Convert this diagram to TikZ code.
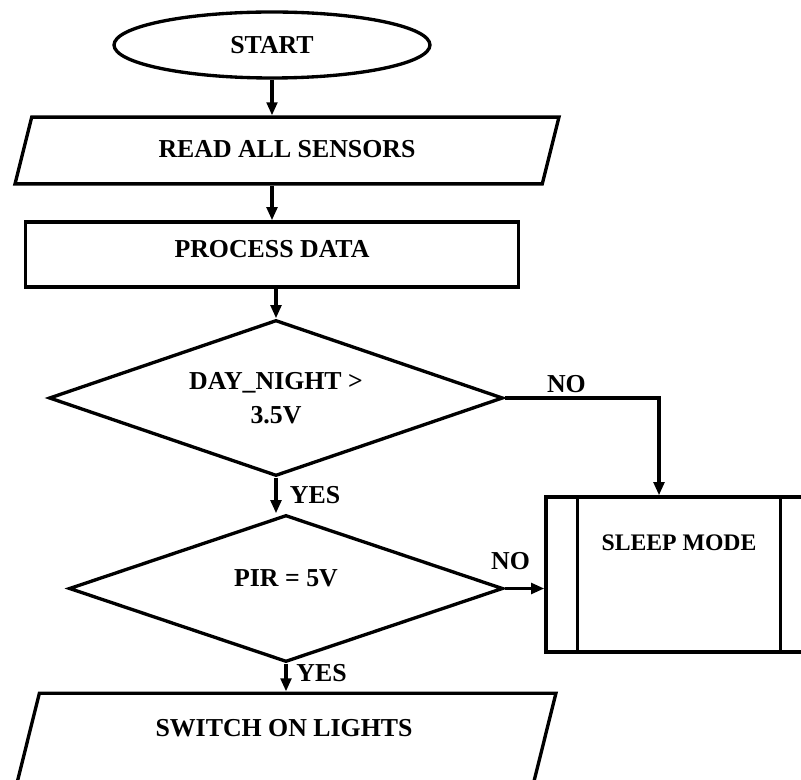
\documentclass[tikz,border=0pt]{standalone}
\usepackage{fontspec}
\setmainfont{Liberation Serif}
\usetikzlibrary{
  arrows.meta,
  positioning,
  shapes.geometric,
  calc
}

\begin{document}
\begin{tikzpicture}[
  x=0.02cm, y=-0.02cm,
  every node/.style={font=\bfseries\fontsize{14.7}{19}\selectfont},
  base/.style={draw, line width=1.9pt, inner sep=2pt, align=center},
  term/.style={base, ellipse, minimum width=6.32cm, minimum height=1.32cm},
  io/.style={base, trapezium, trapezium left angle=76, trapezium right angle=104,
    trapezium stretches body, minimum width=10.88cm},
  proc/.style={base, rectangle, minimum width=9.86cm, minimum height=1.3cm},
  decision/.style={base, diamond, aspect=2.9},
  sub/.style={base, rectangle, minimum width=5.32cm, minimum height=3.1cm},
  lbl/.style={inner sep=2pt},
  arr/.style={draw, line width=1.9pt, -{Triangle[length=7.5pt, width=6pt]}},
  every edge/.style={arr}
]
  \useasboundingbox (0,0) rectangle (801,780);
  \fill[white] (0,0) rectangle (801,780);
  \clip (0,0) rectangle (801,780);

  \node[term] (start) at (272,45) {START};
  \node[io, text height=21pt, text depth=13pt] (read) at (287,150.5) {READ ALL SENSORS};
  \node[proc, text height=10pt, text depth=6.6pt] (process) at (272,254.5) {PROCESS DATA};
  \node[decision, minimum width=9.08cm, minimum height=3.12cm] (daynight) at (276,398)
    {DAY\_NIGHT >\\3.5V};
  \node[decision, minimum width=8.68cm, minimum height=2.94cm,
    text height=10pt, text depth=12.3pt] (pir) at (286,588.5) {PIR = 5V};
  \node[sub, font=\bfseries\fontsize{13.5}{16}\selectfont,
    text height=10pt, text depth=37.2pt] (sleep) at (679,574.5) {SLEEP MODE};
  \node[io, text height=22.7pt, text depth=35.7pt] (switch) at (284,748)
    {SWITCH ON LIGHTS};

  % side bars of the sleep box
  \draw[line width=1.9pt] ([xshift=0.66cm]sleep.north west) -- ([xshift=0.66cm]sleep.south west);
  \draw[line width=1.9pt] ([xshift=-0.66cm]sleep.north east) -- ([xshift=-0.66cm]sleep.south east);

  \draw (start) edge (start |- read.north);
  \draw (start |- read.south) edge (process);
  \draw (process.south -| daynight) edge (daynight);
  \draw (daynight.south) edge node[lbl, right=5pt] {YES} (daynight.south |- pir.north);
  \draw (pir.south) edge node[lbl, right=3pt, pos=0.35] {YES} (pir.south |- switch.north);

  % NO branches
  \draw[arr] (daynight.east) -| node[lbl, above, pos=0.2] {NO} ([xshift=-0.4cm]sleep.north);
  \draw (pir.east) edge node[lbl, above=8pt, pos=0.15] {NO} (pir.east -| sleep.west);

\end{tikzpicture}
\end{document}
